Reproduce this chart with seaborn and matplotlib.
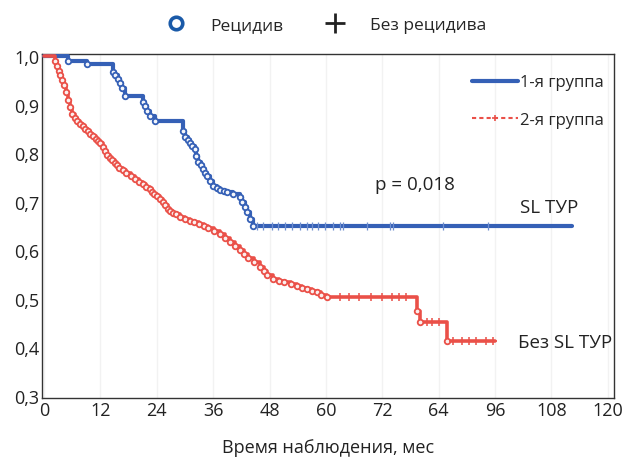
import numpy as np
import pandas as pd
import matplotlib
matplotlib.use("Agg")
import matplotlib.pyplot as plt
import seaborn as sns
from matplotlib.lines import Line2D

# KM step points (month, survival)
blue_t = [0, 5.1, 9.1, 14.7, 15.2, 15.7, 16.2, 16.6, 17.2, 21, 21.5, 22, 22.5, 23.6,
          29.6, 30.1, 30.6, 31, 31.5, 32.1, 32.4, 32.8, 33.3, 33.8, 34.2, 34.7, 35.3,
          36, 36.8, 37.5, 38.2, 38.9, 40.3, 41.7, 42.2, 42.7, 43.2, 43.8, 44.5, 112.3]
blue_s = [1.0, 0.99, 0.983, 0.967, 0.96, 0.952, 0.944, 0.935, 0.918, 0.905, 0.897,
          0.886, 0.876, 0.866, 0.845, 0.833, 0.826, 0.82, 0.814, 0.808, 0.795, 0.782,
          0.775, 0.767, 0.76, 0.753, 0.743, 0.732, 0.728, 0.725, 0.722, 0.72, 0.715,
          0.71, 0.7, 0.69, 0.679, 0.665, 0.65, 0.65]
blue_cens = [45.3, 46.6, 48.5, 49.8, 51.3, 52.8, 54.5, 56, 57, 58.3, 59.8, 61.5, 63,
             63.6, 68.7, 73.6, 74.3, 84.9, 94.5]

red_t = [0, 2.3, 2.7, 3.1, 3.5, 3.9, 4.3, 4.7, 5.1, 5.5, 6.0, 6.5, 7.0, 7.7, 8.3, 8.8,
         9.3, 9.8, 10.4, 11, 11.5, 12, 12.5, 13, 13.5, 14, 14.5, 15, 15.5, 16, 16.7,
         17.5, 18.4, 19.4, 20.2, 21, 21.7, 22.5, 23, 23.5, 24.1, 24.7, 25.3, 25.8, 26.3,
         26.8, 27.4, 28, 29, 30, 31, 32, 33, 34, 35, 36.2, 37.5, 38.5, 39.5, 40.6, 41.7,
         42.6, 43.5, 44.7, 46, 46.8, 47.5, 48.7, 50, 51, 52.5, 53.8, 55, 56, 57, 58, 59,
         60.2, 79.4, 80, 85.7, 96]
red_s = [1.0, 0.99, 0.98, 0.97, 0.96, 0.95, 0.94, 0.925, 0.91, 0.895, 0.88, 0.872,
         0.866, 0.86, 0.855, 0.85, 0.845, 0.84, 0.835, 0.83, 0.825, 0.82, 0.812, 0.805,
         0.797, 0.79, 0.785, 0.78, 0.775, 0.77, 0.765, 0.76, 0.753, 0.747, 0.741, 0.736,
         0.731, 0.726, 0.721, 0.716, 0.711, 0.706, 0.699, 0.693, 0.686, 0.68, 0.677,
         0.674, 0.668, 0.665, 0.661, 0.658, 0.654, 0.65, 0.645, 0.639, 0.633, 0.626,
         0.618, 0.609, 0.6, 0.593, 0.585, 0.575, 0.565, 0.557, 0.55, 0.541, 0.537, 0.534,
         0.53, 0.526, 0.523, 0.52, 0.517, 0.514, 0.509, 0.504, 0.475, 0.452, 0.413, 0.413]
red_cens = [63, 65, 67, 69.5, 72, 74, 75.5, 77, 81.5, 82.5, 84, 87, 89, 90.5, 92, 94, 95.5]

x_ticks = [0, 12, 24, 36, 48, 60, 72, 84, 96, 108, 120]
x_labels = ["0", "12", "24", "36", "48", "60", "72", "64", "96", "108", "120"]
y_ticks = [0.3, 0.4, 0.5, 0.6, 0.7, 0.8, 0.9, 1.0]

blue = "#3560b6"
red = "#ea5048"

sns.set_style("white")
plt.rcParams["font.family"] = ["Open Sans", "DejaVu Sans"]

fig = plt.figure(figsize=(6.32, 4.6), dpi=100)
ax = fig.add_axes([0.0665, 0.1326, 0.905, 0.7478])


def surv_at(ts, ss, t):
    i = np.searchsorted(ts, t, side="right") - 1
    return ss[i]


df = pd.concat([
    pd.DataFrame({"t": blue_t, "s": blue_s, "g": "1"}),
    pd.DataFrame({"t": red_t, "s": red_s, "g": "2"}),
])

sns.lineplot(data=df[df.g == "1"], x="t", y="s", drawstyle="steps-post", color=blue,
             lw=3.0, ax=ax, estimator=None, sort=False, zorder=3)
sns.lineplot(data=df[df.g == "2"], x="t", y="s", drawstyle="steps-post", color=red,
             lw=2.6, ax=ax, estimator=None, sort=False, zorder=3)

# event markers (hollow circles)
ev_b = pd.DataFrame({"t": blue_t[1:-1], "s": blue_s[1:-1]})
ev_r = pd.DataFrame({"t": red_t[1:-1], "s": red_s[1:-1]})
sns.scatterplot(data=ev_b, x="t", y="s", marker="o", s=16, facecolor="#f4f6fb",
                edgecolor=blue, linewidth=1.3, ax=ax, zorder=4)
sns.scatterplot(data=ev_r, x="t", y="s", marker="o", s=16, facecolor="#fbefee",
                edgecolor=red, linewidth=1.3, ax=ax, zorder=4)

# censor ticks
cb = pd.DataFrame({"t": blue_cens, "s": [surv_at(blue_t, blue_s, c) for c in blue_cens]})
cr = pd.DataFrame({"t": red_cens, "s": [surv_at(red_t, red_s, c) for c in red_cens]})
sns.scatterplot(data=cb, x="t", y="s", marker="|", s=36, color="#6f8fcf", linewidth=0.9,
                ax=ax, zorder=4)
sns.scatterplot(data=cr, x="t", y="s", marker="+", s=28, color=red, linewidth=1.1,
                ax=ax, zorder=4)

ax.set_xlim(-0.43, 121.3)
ax.set_ylim(0.296, 1.004)
ax.set_xticks(x_ticks)
ax.set_xticklabels(x_labels)
ax.set_yticks(y_ticks)
ax.set_yticklabels([f"{v:.1f}".replace(".", ",") for v in y_ticks])
ax.tick_params(axis="both", length=0, labelsize=13, colors="#222222", pad=2)
ax.set_xlabel("Время наблюдения, мес", fontsize=13, color="#222222", labelpad=14)
ax.set_ylabel("")
for sp in ax.spines.values():
    sp.set_color("#333333")
    sp.set_linewidth(1.0)
ax.grid(axis="x", color="#f2f2f2", lw=1.0)

ax.text(79, 0.737, "p = 0,018", fontsize=13.5, ha="center", va="center", color="#222222")
ax.text(107.5, 0.69, "SL ТУР", fontsize=13.5, ha="center", va="center", color="#222222")
ax.text(110.8, 0.411, "Без SL ТУР", fontsize=13.5, ha="center", va="center", color="#222222")

h_in = [Line2D([], [], color=blue, lw=3),
        Line2D([], [], color=red, lw=1.5, ls=(0, (2, 1.5)), marker="+", ms=5,
               markevery=[1, 2, 3], markeredgewidth=1.2)]
ax.legend(h_in, ["1-я группа", "2-я группа"], loc="upper right", frameon=False,
          fontsize=12, handlelength=2.8, handletextpad=0.1, labelspacing=1.3,
          bbox_to_anchor=(1.0, 0.97), borderaxespad=0.2)

h_top = [Line2D([], [], ls="", marker="o", ms=9, mfc="white", mec="#1a5aa8", mew=2.6),
         Line2D([], [], ls="", marker="+", ms=14, mec="#222222", mew=2.0)]
fig.legend(h_top, ["Рецидив", "Без рецидива"], loc="upper center", ncol=2,
           frameon=False, fontsize=12.5, bbox_to_anchor=(0.51, 0.995),
           columnspacing=2.0, handletextpad=1.0)

fig.savefig("out.png", dpi=100)
